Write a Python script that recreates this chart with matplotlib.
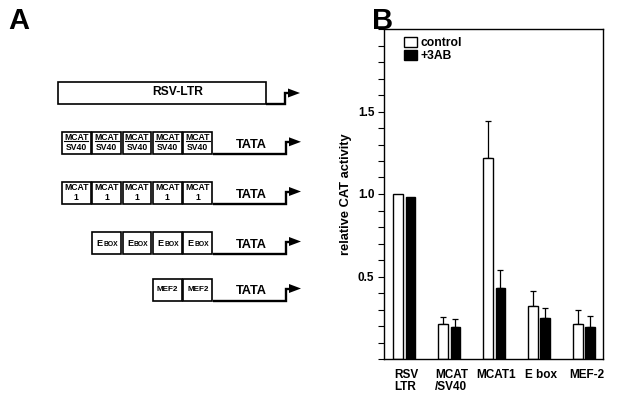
import numpy as np
import matplotlib
matplotlib.use("Agg")
import matplotlib.pyplot as plt
from matplotlib.patches import Rectangle, Polygon
from matplotlib.ticker import MultipleLocator

plt.rcParams['font.family'] = ['Liberation Sans', 'DejaVu Sans']
plt.rcParams['font.weight'] = 'bold'

# ---- data (panel B) ----
categories = ["RSV\nLTR", "MCAT\n/SV40", "MCAT1", "E box", "MEF-2"]
series_names = ["control", "+3AB"]
control = [1.00, 0.21, 1.22, 0.32, 0.21]
control_err = [0.0, 0.045, 0.225, 0.09, 0.09]
treated = [0.98, 0.195, 0.43, 0.25, 0.195]
treated_err = [0.0, 0.045, 0.11, 0.06, 0.065]
yticks = [0.5, 1.0, 1.5]
ytick_labels = ["0.5", "1.0", "1.5"]

# ---- schematic constructs (panel A) ----
construct_names = ["RSV-LTR", "MCAT/SV40", "MCAT 1", "E BOX", "MEF2"]
element_counts = [1, 5, 5, 4, 2]

W, H = 622, 400
fig = plt.figure(figsize=(W / 100, H / 100), dpi=100)

# panel A drawn in pixel space
axA = fig.add_axes([0, 0, 1, 1])
axA.set_xlim(0, W)
axA.set_ylim(H, 0)
axA.axis('off')

lw_box = 1.2
lw_line = 1.7

def arrow(ax, x0, ybot, xturn, yarr):
    ax.plot([x0, xturn, xturn, xturn + 4], [ybot, ybot, yarr, yarr],
            color='black', lw=lw_line, solid_joinstyle='miter', solid_capstyle='butt')
    ax.add_patch(Polygon([[xturn + 3, yarr - 4.5], [xturn + 15, yarr], [xturn + 3, yarr + 4.5]],
                         closed=True, color='black', lw=0))

# Row 1: RSV-LTR
axA.add_patch(Rectangle((58, 82), 208, 22, fill=False, ec='black', lw=lw_box))
axA.text(178, 92, construct_names[0], ha='center', va='center', fontsize=8.7, fontweight='bold')
arrow(axA, 266, 103.5, 285, 93)

def row(ax, top, n, drawer):
    right = 213
    bw = 30.4
    left = right - n * bw
    for i in range(n):
        x = left + i * bw + 0.8
        ax.add_patch(Rectangle((x, top), bw - 1.6, 21.5, fill=False, ec='black', lw=lw_box))
        drawer(ax, x + (bw - 1.6) / 2, top)
    ax.text(251, top + 12.5, "TATA", ha='center', va='center', fontsize=9.2, fontweight='bold')
    arrow(ax, right, top + 21.5, 286, top + 9.5)

def d_sv40(ax, cx, top):
    ax.text(cx, top + 5.2, "MCAT", ha='center', va='center', fontsize=6.2, fontweight='bold')
    ax.plot([cx - 12, cx + 12], [top + 8.8, top + 8.8], color='black', lw=0.8)
    ax.text(cx, top + 14.7, "SV40", ha='center', va='center', fontsize=6.2, fontweight='bold')

def d_mcat1(ax, cx, top):
    ax.text(cx, top + 6, "MCAT", ha='center', va='center', fontsize=6.2, fontweight='bold')
    ax.text(cx, top + 16, "1", ha='center', va='center', fontsize=6.2, fontweight='bold')

def d_ebox(ax, cx, top):
    ax.text(cx - 10, top + 13.5, "E", ha='left', va='baseline', fontsize=6.6, fontweight='bold')
    ax.text(cx - 3, top + 13.5, "BOX", ha='left', va='baseline', fontsize=4.9, fontweight='bold')

def d_mef2(ax, cx, top):
    ax.text(cx, top + 10.5, "MEF2", ha='center', va='center', fontsize=5.9, fontweight='bold')

row(axA, 132.3, element_counts[1], d_sv40)
row(axA, 182, element_counts[2], d_mcat1)
row(axA, 232, element_counts[3], d_ebox)
row(axA, 279, element_counts[4], d_mef2)

axA.text(8, 21, "A", ha='left', va='center', fontsize=21, fontweight='bold')
axA.text(372, 21, "B", ha='left', va='center', fontsize=21, fontweight='bold')

# panel B
ax = fig.add_axes([384 / W, 1 - 359 / H, (603 - 384) / W, (359 - 29) / H])
x = np.arange(len(categories))
bw = 0.21
off = 0.135
ax.bar(x - off, control, bw, color='white', edgecolor='black', lw=1.0, label=series_names[0], zorder=2)
ax.bar(x + off, treated, bw, color='black', edgecolor='black', lw=1.0, label=series_names[1], zorder=2)
for xi, v, e in zip(x - off, control, control_err):
    if e > 0:
        ax.errorbar(xi, v, yerr=[[0], [e]], color='black', lw=0.9, capsize=2.2, capthick=0.9, zorder=1)
for xi, v, e in zip(x + off, treated, treated_err):
    if e > 0:
        ax.errorbar(xi, v, yerr=[[0], [e]], color='black', lw=0.9, capsize=2.2, capthick=0.9, zorder=1)

ax.set_xlim(-0.45, 4.42)
ax.set_ylim(0, 2.0)
ax.set_yticks(yticks)
ax.set_yticklabels(ytick_labels, fontsize=8.5, fontweight='bold')
ax.yaxis.set_minor_locator(MultipleLocator(0.1))
ax.tick_params(axis='y', which='both', direction='out', length=4, width=0.8, pad=3)
ax.set_xticks(x + 0.05)
ax.set_xticklabels(categories, fontsize=8.5, fontweight='bold', linespacing=1.0, multialignment='left')
ax.tick_params(axis='x', length=0, pad=7)
for s in ax.spines.values():
    s.set_linewidth(1.0)
ax.set_ylabel("relative CAT activity", fontsize=9.3, fontweight='bold', labelpad=4)

leg = ax.legend(loc='upper left', bbox_to_anchor=((404 - 384) / 219, (359 - 37) / 330),
                frameon=False, fontsize=8.7, handlelength=1.1, handleheight=0.85,
                handletextpad=0.25, labelspacing=0.1, borderpad=0, borderaxespad=0)
for t in leg.get_texts():
    t.set_fontweight('bold')

fig.savefig("out.png", dpi=100)
